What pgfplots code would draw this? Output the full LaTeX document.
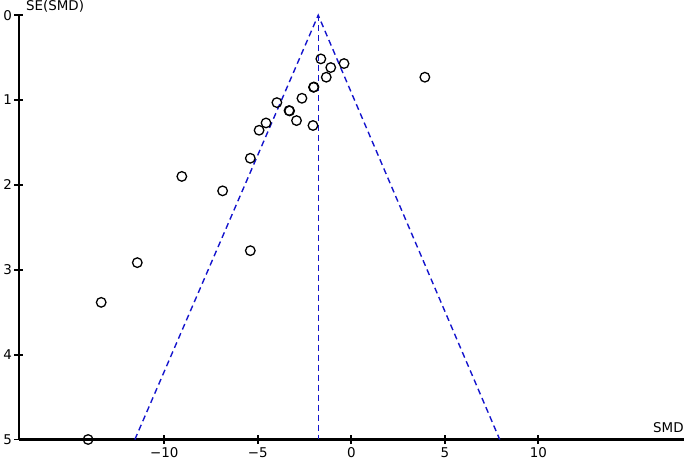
\documentclass[border=0pt]{standalone}
\usepackage{pgfplots}
\pgfplotsset{compat=1.18}
\usepackage{fontspec}
\setmainfont{DejaVu Sans}
\definecolor{funnelblue}{RGB}{20,20,205}
\begin{document}
\begin{tikzpicture}
\begin{axis}[
  scale only axis,
  width=666bp, height=425bp,
  xmin=-17.77, xmax=17.77,
  ymin=0, ymax=5,
  y dir=reverse,
  axis x line=bottom,
  axis y line=left,
  axis line style={-, line width=2.4pt, draw=black},
  xtick={-10,-5,0,5,10},
  xticklabels={−10,−5,0,5,10},
  ytick={0,1,2,3,4,5},
  tick align=center,
  major tick length=9bp,
  major tick style={line width=2pt, draw=black},
  /pgf/number format/assume math mode=true,
  tick label style={font=\fontsize{13.5}{15}\selectfont},
  yticklabel style={xshift=1bp},
  clip=false,
]
% funnel limits
\addplot[funnelblue, line width=1.4pt, dash pattern=on 6bp off 4bp] coordinates {(-11.57,5) (-1.77,0) (7.93,5)};
\addplot[funnelblue, line width=1.4pt, dash pattern=on 6bp off 4bp] coordinates {(-1.77,0) (-1.77,5)};
% studies
\addplot[only marks, mark=o, mark size=4.8bp, mark options={line width=1.3pt, draw=black}] coordinates {
  (-1.63,0.515) (-0.39,0.57) (-1.10,0.617) (-1.34,0.731) (3.93,0.731)
  (-2.00,0.846) (-2.02,0.850) (-2.64,0.979) (-3.98,1.03)
  (-3.33,1.124) (-3.30,1.128) (-2.93,1.242) (-4.56,1.27) (-2.05,1.30)
  (-4.93,1.356) (-5.40,1.686) (-9.06,1.90) (-6.88,2.07) (-5.40,2.775)
  (-11.44,2.916) (-13.37,3.384) (-14.07,5.0)
};
\node[anchor=base west, inner sep=0pt, font=\fontsize{13.5}{15}\selectfont] at (axis cs:-17.77,0) [xshift=7bp, yshift=5bp] {SE(SMD)};
\node[anchor=base east, inner sep=0pt, font=\fontsize{13.5}{15}\selectfont] at (axis cs:17.77,5) [yshift=7bp] {SMD};
\end{axis}
\end{tikzpicture}
\end{document}
